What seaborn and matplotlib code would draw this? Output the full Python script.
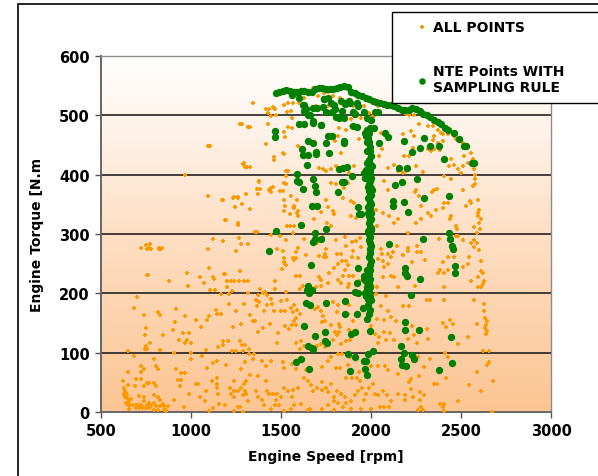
import numpy as np
import pandas as pd
import matplotlib
matplotlib.use("Agg")
import matplotlib.pyplot as plt
import seaborn as sns
from matplotlib.colors import LinearSegmentedColormap
from matplotlib.patches import Rectangle

# ---------------- data (rpm, N.m) ----------------
all_points_left = [
    (1124,291),(1180,289),(1267,294),(770,283),(724,277),(754,275),(778,275),(824,275),(835,275),(1094,274),
    (1250,272),(1278,283),(1317,283),(759,231),(880,220),(980,235),(983,213),(1048,228),(1070,217),(1124,228),
    (1106,206),(1135,206),(1187,233),(1198,211),(1220,221),(1267,221),(1274,238),(1230,204),(1315,221),(1169,199),
    (1209,199),(702,193),(685,175),(737,164),(817,168),(830,163),(915,174),(967,162),(909,152),(902,139),
    (1026,155),(1054,143),(1089,155),(1100,161),(1141,172),(1143,165),(1167,165),(1209,182),(1250,170),(1296,182),
    (1326,163),(1280,148),(1233,143),(954,133),(991,133),(933,122),(978,122),(969,116),(1000,116),(846,129),
    (748,141),(746,129),(770,117),(748,112),(746,107),(754,107),(828,105),(1148,109),(1178,120),(1206,119),
    (1178,113),(1274,119),(1281,113),(1298,113),(1324,107),(1228,102),(1250,102),(1289,102),(1322,98),
    (650,102),(685,95),(794,90),(904,100),(1002,99),(1002,89),(1059,94),(1083,104),(1144,86),(1124,82),
    (1193,80),(1089,75),(1302,85),(1280,73),(1326,63),(1307,53),(1241,52),(1296,47),(724,78),(741,73),
    (722,68),(806,78),(817,72),(650,68),(620,52),(696,56),(724,56),(754,49),(765,49),(794,49),
    (652,46),(691,44),(739,44),(807,44),(915,72),(944,66),(967,65),(930,54),(944,54),(937,43),
    (1026,48),(1039,48),(1052,26),(991,31),(1081,36),(1117,53),(1146,57),(1146,47),(1146,40),(1152,31),
    (1078,19),(1189,12),(1157,14),(1124,7),(1100,2),(1219,40),(1237,35),(1259,35),(1278,40),(1300,35),
    (1222,30),(1241,25),(1291,28),(1315,19),(1304,30),(1259,8),(1274,8),(1241,1),(1287,0),(959,9),
    (907,21),(861,4),(826,21),(844,13),
]
all_points_corner = [
    (630,40),(633,36),(641,32),(644,28),(633,25),(648,22),(656,19),(641,16),(667,22),(648,12),
    (663,12),(678,12),(693,12),(707,12),(722,12),(694,7),(713,7),(731,7),(750,7),(769,7),
    (756,12),(737,26),(737,19),(713,27),(765,16),(793,16),(796,28),(815,26),(830,21),(778,10),
    (806,10),(826,10),(852,10),(870,10),(819,4),(796,4),(848,4),(863,2),(654,5),(630,31),
]
all_points_middle = [
    (1629,291),(1698,285),(1735,295),(1807,290),(1855,295),(1892,287),(1939,293),(1914,288),(1942,278),(1509,271),
    (1476,275),(1596,276),(1750,274),(1742,267),(1813,267),(1833,267),(1859,279),(1863,255),(1870,248),(1892,262),
    (1898,271),(1927,260),(1518,260),(1518,252),(1529,247),(1568,260),(1583,260),(1637,264),(1713,263),(1737,261),
    (1750,261),(1818,249),(1837,255),(1792,242),(1855,240),(1581,230),(1607,230),(1711,228),(1722,223),(1765,235),
    (1818,222),(1842,230),(1876,230),(1898,229),(1466,220),(1622,213),(1527,203),(1605,207),(1694,210),(1722,212),
    (1759,217),(1833,217),(1879,215),(1870,210),(1935,220),(1383,207),(1411,202),(1374,198),(1422,198),(1359,189),
    (1376,185),(1366,179),(1422,181),(1403,170),(1448,182),(1462,170),(1500,187),(1533,188),(1555,175),(1574,181),
    (1500,170),(1524,170),(1568,168),(1589,172),(1585,158),(1574,153),(1559,147),(1583,147),(1607,165),(1689,174),
    (1704,177),(1722,171),(1789,185),(1815,181),(1809,169),(1731,161),(1746,153),(1726,151),(1777,147),(1820,148),
    (1827,143),(1800,134),(1824,134),(1811,130),(1879,138),(1879,181),(1870,165),(1898,154),(2055,179),(2083,195),
    (2074,155),(2103,133),(2070,134),(2083,121),(2042,127),(2129,121),(2037,116),(1344,153),(1353,153),(1374,134),
    (1400,141),(1440,148),(1481,133),(1476,117),(1524,145),(1546,140),(1583,117),(1611,119),(1605,106),(1626,112),
    (1700,111),(1722,115),(1746,109),(1787,121),(1833,115),(1861,120),(1885,121),(1818,98),(1837,98),(1777,92),
    (1348,98),(1346,90),(1392,86),(1416,78),(1444,86),(1509,85),(1518,75),(1559,81),(1583,72),(1638,71),
    (1726,76),(1763,86),(1805,75),(1829,75),(1870,80),(1885,92),(1861,58),(1892,58),(1922,58),(1940,53),
    (1935,67),(2000,78),(2037,78),(2077,78),(2096,70),(1370,61),(1361,36),(1414,52),(1422,36),(1435,30),
    (1455,30),(1477,30),(1500,25),(1472,20),(1490,11),(1468,11),(1518,40),(1537,35),(1564,37),(1561,25),
    (1592,40),(1629,57),(1648,53),(1666,46),(1677,36),(1698,40),(1726,50),(1729,37),(1750,40),(1759,33),
    (1777,47),(1792,25),(1796,19),(1811,36),(1833,30),(1855,25),(1889,19),(1911,28),(1926,36),(1948,41),
    (1972,31),(1990,40),(2009,47),(2024,30),(2040,29),(2064,36),(2089,29),(2111,19),(2102,8),(2074,9),
    (2048,8),(2000,5),(1944,5),(1889,5),(1842,8),(1792,4),(1729,5),(1663,5),(1648,4),(1611,13),
    (1574,11),(1555,5),(1444,5),(1407,11),(1374,26),(1394,20),(1518,2),(1759,12),(1815,16),(1861,16),
    (1963,20),(2148,64),(2148,30),
    (2055,274),(2059,266),(2092,267),(2111,261),(2120,269),(2142,279),(2037,258),(2064,255),(2070,244),(2092,249),
    (2111,230),(2126,227),(2148,210),(2064,227),(2033,210),(2009,213),(2028,199),(2092,171),(2111,160),(2139,154),
    (2033,157),(2000,145),(2022,131),
]
all_points_right = [
    (2376,291),(2485,296),(2473,296),(2510,290),(2556,285),(2574,290),(2589,285),(2571,278),(2602,273),(2204,276),
    (2254,280),(2208,271),(2254,269),(2278,269),(2300,257),(2226,252),(2176,265),(2398,252),(2426,262),(2463,262),
    (2543,262),(2611,255),(2510,245),(2537,249),(2426,240),(2384,240),(2408,235),(2374,235),(2611,238),(2621,234),
    (2593,227),(2630,221),(2556,221),(2621,216),(2597,210),(2611,210),(2408,211),(2247,213),(2311,189),(2330,189),
    (2408,189),(2571,188),(2630,182),(2630,170),(2636,158),(2645,153),(2639,147),(2634,142),(2645,136),(2639,131),
    (2589,148),(2213,179),(2176,178),(2398,150),(2417,143),(2441,155),(2458,148),(2226,145),(2311,140),(2241,129),
    (2208,123),(2256,117),(2319,123),(2485,115),(2537,126),(2624,102),(2658,102),(2411,99),(2426,92),(2658,85),
    (2645,80),(2330,89),(2260,93),(2297,76),(2589,68),(2417,58),(2265,60),(2223,55),(2213,50),(2352,48),
    (2365,48),(2547,46),(2676,52),(2611,35),(2223,38),(2189,28),(2232,26),(2272,33),(2297,29),(2272,21),
    (2189,21),(2485,19),(2384,13),(2404,13),(2398,9),(2278,9),(2260,4),(2287,4),(2408,2),(2671,0),
]
all_points_top = [
    (1274,486),(1319,481),(1106,449),(1291,418),(1302,413),(1326,413),(967,400),(1094,364),(1176,357),(1239,362),
    (1261,362),(1307,367),(1285,350),(1244,345),(1191,323),(1261,318),
    (1342,520),(1416,510),(1435,510),(1426,504),(1457,514),(1466,510),(1472,500),(1429,485),(1444,499),(1518,517),
    (1537,520),(1564,520),(1555,507),(1559,496),(1601,521),(1533,506),(1514,472),(1522,464),(1416,451),(1459,429),
    (1463,424),(1518,434),(1509,437),(1592,449),(1559,479),(1537,481),(1527,406),(1537,406),(1379,388),(1366,376),
    (1374,368),(1383,376),(1444,378),(1453,380),(1494,372),(1509,372),(1529,398),(1518,386),(1527,384),(1522,348),
    (1555,364),(1518,339),(1570,344),(1592,339),(1592,331),(1620,316),(1564,302),(1366,303),(1444,299),(1533,313),
    (1685,325),(1722,337),(1759,346),(1787,339),(1796,333),(1755,319),(1777,313),(1750,358),(1777,386),(1805,384),
    (1851,378),(1874,386),(1842,361),(1889,356),(1907,353),(1889,330),(1916,327),(1713,412),(1731,409),(1750,406),
    (1777,409),(1833,409),(1805,415),(1851,413),(1879,403),(1903,415),(1833,437),(1802,457),(1815,465),(1824,479),
    (1861,476),(1889,482),(1889,493),(1907,499),(1922,482),(1935,460),(2037,516),(2055,471),(2059,443),(2046,431),
    (2092,412),(2129,416),(2148,406),(2074,389),(2092,375),(2065,336),(2102,330),(2148,325),(2129,319),(2018,375),
    (2028,341),(2033,313),(1740,538),(1759,539),(1787,533),(1829,530),(1703,533),(1648,541),(1676,546),(1629,530),
    (1592,534),(1898,516),(1963,516),(1990,504),(2018,499),(1629,510),(1657,510),(1694,516),(1759,516),(1796,510),
    (1944,496),(2009,499),(2102,516),
    (2195,502),(2213,500),(2241,500),(2269,485),(2315,482),(2343,482),(2371,476),(2398,468),(2463,465),(2473,460),
    (2510,454),(2537,448),(2556,437),(2565,426),(2574,409),(2578,400),(2578,392),(2578,384),(2565,381),(2593,358),
    (2556,353),(2528,347),(2602,341),(2593,336),(2593,330),(2611,325),(2602,319),(2606,309),(2574,311),(2589,302),
    (2176,468),(2223,474),(2241,465),(2185,431),(2213,431),(2176,403),(2195,406),(2232,445),(2250,415),(2287,404),
    (2315,443),(2334,440),(2343,459),(2352,465),(2389,470),(2426,468),(2371,454),(2398,457),(2352,443),(2386,441),
    (2445,426),(2435,415),(2463,417),(2482,409),(2500,403),(2510,415),(2519,431),(2537,420),(2408,398),(2445,392),
    (2250,375),(2245,370),(2269,364),(2278,347),(2339,370),(2352,375),(2365,376),(2408,353),(2426,353),(2398,344),
    (2445,330),(2441,325),(2473,313),(2478,308),(2361,341),(2315,336),(2334,331),(2278,325),(2250,319),(2204,302),
    (2513,375),(2552,356),
    (1093,364),(1174,357),(1235,361),(1262,361),(1193,323),(1262,316),(1326,342),(1354,304),(1380,389),(1432,375),
    (1447,370),(1294,419),(1311,413),(1283,486),(1326,481),(966,400),(1097,448),
    (722,277),(748,281),(769,277),(822,277),(837,277),(756,231),(875,220),(981,212),(1100,243),(1125,224),
    (1185,232),(1199,221),(1241,221),(1294,221),(1316,201),(1401,201),(1464,208),(1447,191),(1506,241),(1523,250),
    (1570,257),(1583,269),(1496,296),(1528,290),(1549,313),(1570,313),(1517,339),(1549,333),(1517,358),(1591,358),
    (1570,347),(1591,336),
]

nte_envelope = [
    (1470,537),(1490,540),(1510,541),(1530,542),(1550,541),(1570,540),(1590,540),(1610,541),(1630,541),(1650,539),
    (1670,540),(1690,544),(1710,546),(1730,546),(1750,545),(1770,545),(1790,545),(1810,546),(1830,548),(1850,549),
    (1870,548),(1890,540),(1910,537),(1930,535),(1950,532),(1970,530),(1990,528),(2010,525),(2030,523),(2050,520),
    (2070,519),(2090,518),(2110,517),(2130,515),(2150,512),(2170,509),(2190,509),(2210,509),(2230,512),(2250,511),
    (2270,507),(2290,503),(2310,500),(2330,498),(2350,492),(2370,488),(2390,485),(2410,478),(2430,476),(2460,471),
    (2490,460),(2530,448),(2570,420),
    (1560,535),(1600,530),(1620,518),(1640,510),(1660,500),(1700,512),(1740,528),(1760,530),(1780,520),(1800,510),
    (1840,508),(1860,520),(1880,525),(1920,520),(1960,505),(1980,495),(2000,492),(2020,505),(2040,505),(1900,505),
    (1850,495),(1820,495),(1750,505),(1680,490),(1630,485),(1720,483),(1920,480),
]
nte_column = [
    (1990,470),(1985,462),(1990,455),(1995,447),(1992,440),(1998,432),(1990,425),(1995,418),(1988,412),(1996,406),
    (1992,400),(1986,395),(1995,390),(1990,384),(1998,378),(1988,372),(1994,366),(1990,360),(1997,354),(1988,348),
    (1993,342),(1999,336),(1990,330),(1995,324),(1987,318),(1993,312),(1999,306),(1990,300),(1996,295),(1988,290),
    (1994,284),(2000,280),(1992,275),(1996,268),(1990,262),(1998,255),(1992,248),(1996,240),(1990,232),(1995,225),
    (1988,218),(1996,210),(1990,203),(1995,195),(1998,188),(1985,180),(1992,172),(1990,410),(2000,395),(1985,380),
    (2000,365),(1985,345),(2000,325),(1984,305),(2002,310),(1984,335),(2002,350),(1982,360),(2003,375),(1982,400),
    (2003,415),(1975,420),(1970,408),(1960,402),(1965,395),(1980,440),(1975,455),(1970,465),(1965,470),(1980,475),
    (1995,478),(1970,220),(1960,225),(1975,210),(1965,200),(1980,205),(1970,195),(1985,190),(1962,230),(1978,240),
]
nte_scatter = [
    (1468,474),(1468,463),(1598,485),(1628,517),(1628,507),(1651,500),(1676,513),(1678,487),(1723,483),(1735,514),
    (1740,527),(1782,505),(1794,517),(1803,497),(1831,525),(1858,519),(1884,520),(1930,515),(1909,503),(1651,457),
    (1676,453),(1697,438),(1693,434),(1765,437),(1750,454),(1761,465),(1786,466),(1852,457),(1852,454),(1901,482),
    (1619,444),(1623,433),(1644,416),(1651,433),(1824,409),(1845,412),(1867,413),(1894,398),(1852,387),(1841,387),
    (1814,370),(1587,401),(1587,389),(1602,388),(1623,376),(1680,393),(1689,381),(1693,371),(1672,347),(1701,347),
    (1930,346),(1934,333),(1947,333),(1471,305),(1612,315),(1689,302),(1748,308),(1723,291),(1676,287),(1689,291),
    (1433,271),(1668,247),(1930,243),(1651,213),(1644,206),(1672,206),(1655,201),(1640,184),(1661,180),(1750,184),
    (1924,217),(1909,202),(1928,201),(1856,187),(1953,176),(1987,165),(1856,166),(1924,166),(1628,145),(1689,128),
    (1746,134),(1746,120),(1757,117),(1909,135),(1888,131),(1994,137),(1651,111),(1672,108),(1680,106),(1581,84),
    (1610,89),(1655,72),(1871,97),(1909,92),(1962,86),(1973,86),(1983,97),(2009,103),(1884,69),(1966,73),
    (1979,63),(1979,156),
    (2079,470),(2096,464),(2043,453),(2019,479),(2185,457),(2227,439),(2274,445),(2295,461),(2329,449),(2375,449),
    (2407,427),(2519,448),(2560,419),(2153,412),(2200,412),(2132,383),(2170,388),(2255,392),(2297,360),(2432,364),
    (2185,354),(2121,356),(2121,348),(2206,337),(2100,283),(2289,291),(2432,301),(2438,291),(2449,280),(2453,274),
    (2464,246),(2464,234),(2191,242),(2191,235),(2200,229),(2270,225),(2223,197),(2189,152),(2189,139),(2265,139),
    (2164,112),(2181,100),(2227,96),(2238,89),(2168,89),(2174,79),(2195,78),(2445,126),(2449,82),(2375,71),
]

x_ticks = [500, 1000, 1500, 2000, 2500, 3000]
y_ticks = [0, 100, 200, 300, 400, 500, 600]
label_all = "ALL POINTS"
label_nte = "NTE Points WITH\nSAMPLING RULE"

all_pts = all_points_left + all_points_corner + all_points_middle + all_points_right + all_points_top
nte_pts = nte_envelope + nte_column + nte_scatter
df_all = pd.DataFrame(all_pts, columns=["speed", "torque"])
df_nte = pd.DataFrame(nte_pts, columns=["speed", "torque"])

# ---------------- figure ----------------
W, H = 598, 477
fig = plt.figure(figsize=(W / 100, H / 100), dpi=100)
plt.rcParams['font.family'] = ['DejaVu Sans']
fig.patch.set_facecolor("white")

# outer chart border (only left/top visible)
fig.patches.append(Rectangle((18 / W, -0.2), 1.5, 1.2 - 5 / H, transform=fig.transFigure,
                             fill=False, edgecolor="black", linewidth=1.2, zorder=0))

ax = fig.add_axes([101 / W, 1 - 413 / H, 450 / W, 356 / H])

# gradient background
cmap = LinearSegmentedColormap.from_list("peach", [(0.0, "#FCC593"), (0.5, "#FEDFC4"), (0.85, "#FFF6EF"), (1.0, "#FFFFFF")])
grad = np.linspace(0, 1, 256).reshape(-1, 1)
ax.imshow(grad, extent=[500, 3000, 0, 600], origin="lower", aspect="auto", cmap=cmap, zorder=0)

for yv in y_ticks[1:-1]:
    ax.axhline(yv, color="#111111", linewidth=1.1, zorder=1)

sns.scatterplot(data=df_all, x="speed", y="torque", ax=ax, color="#FF9900", marker="P",
                s=8, linewidth=0, zorder=3, label=label_all)
sns.scatterplot(data=df_nte, x="speed", y="torque", ax=ax, color="#008000", marker="o",
                s=28, linewidth=0, zorder=4, label=label_nte)

ax.set_xlim(500, 3000)
ax.set_ylim(0, 600)
ax.set_xticks(x_ticks)
ax.set_yticks(y_ticks)
ax.tick_params(axis="both", direction="out", length=4, width=1, color="#555555",
               labelsize=10.5, pad=4)
for lab in ax.get_xticklabels() + ax.get_yticklabels():
    lab.set_fontweight("bold")
ax.set_xlabel("Engine Speed [rpm]", fontsize=10, fontweight="bold", labelpad=8)
ax.set_ylabel("Engine Torque [N.m", fontsize=10, fontweight="bold", labelpad=11)
for side in ["top", "right"]:
    ax.spines[side].set_color("#8c8c8c")
    ax.spines[side].set_linewidth(1.0)
for side in ["left", "bottom"]:
    ax.spines[side].set_color("#666666")
    ax.spines[side].set_linewidth(1.4)

# legend box (drawn inside the axes' artist list so the legend lies above it)
box = Rectangle((392 / W, 1 - 104 / H), 0.5, 91 / H, transform=fig.transFigure,
                facecolor="white", edgecolor="black", linewidth=1.0, zorder=5, clip_on=False)
ax.add_patch(box)
leg = ax.legend(loc="upper left", bbox_to_anchor=(408 / W, 1 - 14 / H), bbox_transform=fig.transFigure,
                frameon=False, fontsize=10, handlelength=1.0, handletextpad=0.3,
                labelspacing=2.15, borderpad=0)
for t in leg.get_texts():
    t.set_fontweight("bold")
leg.set_zorder(6)
hs = leg.legend_handles
hs[0].set_sizes([8])
hs[1].set_sizes([22])

fig.savefig("out.png", dpi=100)
